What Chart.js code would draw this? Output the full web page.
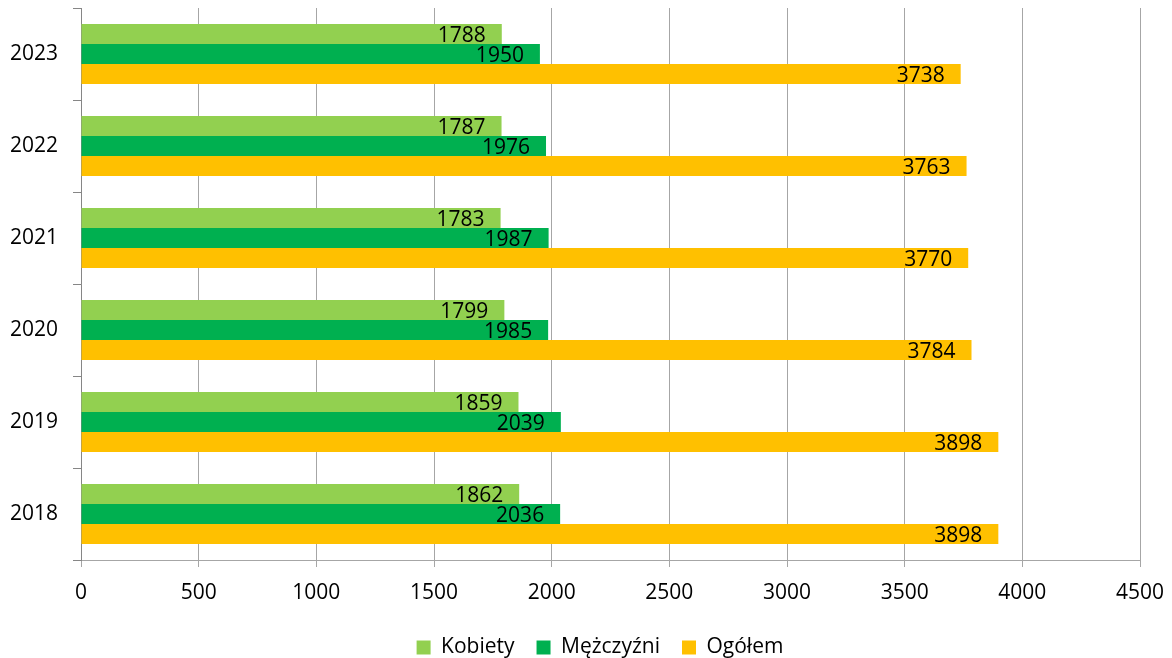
<!DOCTYPE html>
<html>
<head>
<meta charset="utf-8">
<script src="https://cdn.jsdelivr.net/npm/chart.js@4"></script>
<style>
  html, body { margin: 0; padding: 0; background: #fff; }
  #wrap { width: 1172px; height: 658px; }
</style>
</head>
<body>
<div id="wrap"><canvas id="chart" width="1172" height="658"></canvas></div>
<script>
// ===== DATA =====
const years = ["2023", "2022", "2021", "2020", "2019", "2018"];
const kobiety = [1788, 1787, 1783, 1799, 1859, 1862];
const mezczyzni = [1950, 1976, 1987, 1985, 2039, 2036];
const ogolem = [3738, 3763, 3770, 3784, 3898, 3898];
const seriesNames = ["Kobiety", "Mężczyźni", "Ogółem"];
const xTicks = [0, 500, 1000, 1500, 2000, 2500, 3000, 3500, 4000, 4500];

const FONT = "'Open Sans', 'Noto Sans', sans-serif";
const X_AXIS_H = 50;

// ===== VALUE LABELS (end of bar, inside) =====
const barLabels = {
    id: "barLabels",
    afterDatasetsDraw(chart) {
        const ctx = chart.ctx;
        ctx.save();
        ctx.font = "21px " + FONT;
        ctx.fillStyle = "#000";
        ctx.textAlign = "right";
        ctx.textBaseline = "middle";
        chart.data.datasets.forEach((ds, i) => {
            chart.getDatasetMeta(i).data.forEach((bar, j) => {
                ctx.fillText(ds.data[j], bar.x - 16, bar.y + 2);
            });
        });
        ctx.restore();
    }
};

// fixed legend height so the plot area ends where the original does,
// legend nudged right/down like in the original
const legendFix = {
    id: "legendFix",
    beforeInit(chart) {
        const lg = chart.legend;
        if (!lg) return;
        const fit = lg.fit;
        lg.fit = function() {
            fit.call(this);
            this.height = 658 - 560 - X_AXIS_H;
        };
    },
    afterLayout(chart) {
        const lg = chart.legend;
        if (!lg) return;
        lg.left += 30;
        lg.right += 30;
        lg.top += 5;
        lg.bottom += 5;
    }
};

new Chart(document.getElementById("chart"), {
    type: "bar",
    data: {
        labels: years,
        datasets: [
            { label: seriesNames[0], data: kobiety, backgroundColor: "#92D050" },
            { label: seriesNames[1], data: mezczyzni, backgroundColor: "#00B050" },
            { label: seriesNames[2], data: ogolem, backgroundColor: "#FFC000" }
        ]
    },
    options: {
        indexAxis: "y",
        responsive: false,
        animation: false,
        layout: { padding: { top: 8, right: 32, left: 0, bottom: 0 } },
        datasets: { bar: { categoryPercentage: 0.652, barPercentage: 1.0 } },
        plugins: {
            legend: {
                position: "bottom",
                labels: {
                    boxWidth: 14,
                    boxHeight: 14,
                    padding: 22,
                    color: "#000",
                    font: { family: FONT, size: 21 }
                }
            },
            tooltip: { enabled: false }
        },
        scales: {
            x: {
                min: 0,
                max: 4500,
                afterBuildTicks: axis => { axis.ticks = xTicks.map(v => ({ value: v })); },
                afterFit: axis => {
                    axis.height = X_AXIS_H;
                    axis.paddingLeft = 0;
                    axis.paddingRight = 0;
                },
                ticks: {
                    color: "#000",
                    font: { family: FONT, size: 21 },
                    padding: 13,
                    callback: v => String(v)
                },
                grid: { color: "#A6A6A6", lineWidth: 1, tickLength: 7 },
                border: { color: "#A6A6A6" }
            },
            y: {
                afterFit: axis => {
                    axis.width = 81;
                    axis.paddingTop = 0;
                    axis.paddingBottom = 0;
                },
                ticks: { color: "#000", font: { family: FONT, size: 21 }, padding: 15 },
                grid: { offset: true, drawOnChartArea: false, color: "#868686", tickLength: 8 },
                border: { color: "#868686" }
            }
        }
    },
    plugins: [barLabels, legendFix]
});
</script>
</body>
</html>
